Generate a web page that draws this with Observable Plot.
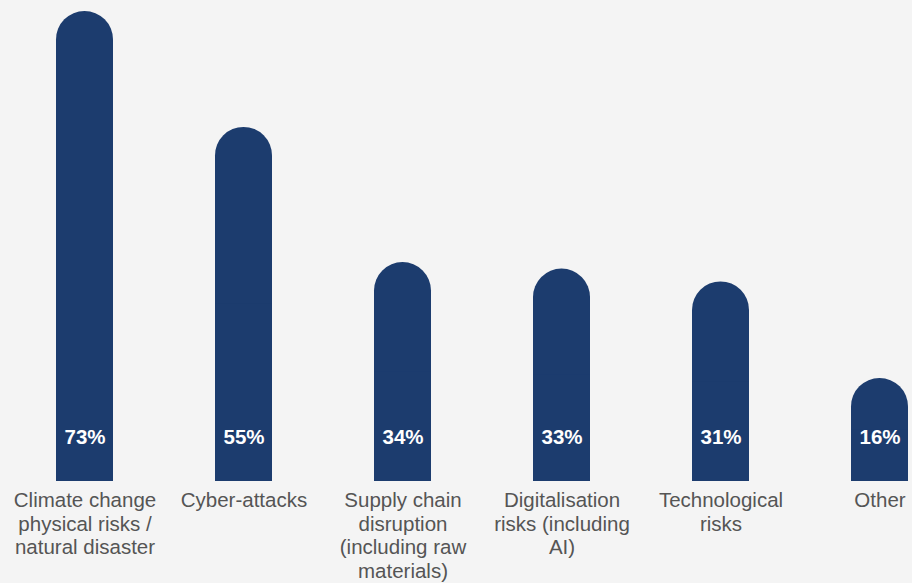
<!DOCTYPE html>
<html><head><meta charset="utf-8">
<script src="https://cdn.jsdelivr.net/npm/d3@7"></script>
<script src="https://cdn.jsdelivr.net/npm/@observablehq/plot@0.6"></script>
<style>html,body{margin:0;padding:0;background:#f4f4f4;} #chart{width:912px;height:583px;}</style>
</head><body><div id="chart"></div>
<script>
const categories = [
  "Climate change\nphysical risks /\nnatural disaster",
  "Cyber-attacks",
  "Supply chain\ndisruption\n(including raw\nmaterials)",
  "Digitalisation\nrisks (including\nAI)",
  "Technological\nrisks",
  "Other"
];
const values = [73, 55, 34, 33, 31, 16];
const valueLabels = ["73%", "55%", "34%", "33%", "31%", "16%"];

const data = categories.map((c, i) => ({category: c, value: values[i], label: valueLabels[i]}));
const BAR = "#1c3c6e";

const chart = Plot.plot({
  width: 912, height: 583,
  marginTop: 11, marginBottom: 102, marginLeft: 54, marginRight: 2,
  style: {background: "#f4f4f4", fontFamily: "'Liberation Sans', Arial, sans-serif"},
  x: {domain: categories, paddingInner: 0.643, paddingOuter: 0, axis: null},
  y: {domain: [0, 73], axis: null},
  marks: [
    Plot.barY(data, {x: "category", y: "value", fill: BAR, rx: 28.5}),
    Plot.barY(data, {x: "category", y: d => d.value / 2, fill: BAR}),
    Plot.text(data, {x: "category", y: 0, text: "label", fill: "white", fontWeight: "bold", fontSize: 20.5, lineAnchor: "bottom", dy: -38}),
    Plot.text(data, {x: "category", y: 0, text: "category", fill: "#555555", fontSize: 20.5, lineHeight: 1.15, lineAnchor: "top", dy: 9})
  ]
});
document.getElementById("chart").appendChild(chart);
</script>
</body></html>
